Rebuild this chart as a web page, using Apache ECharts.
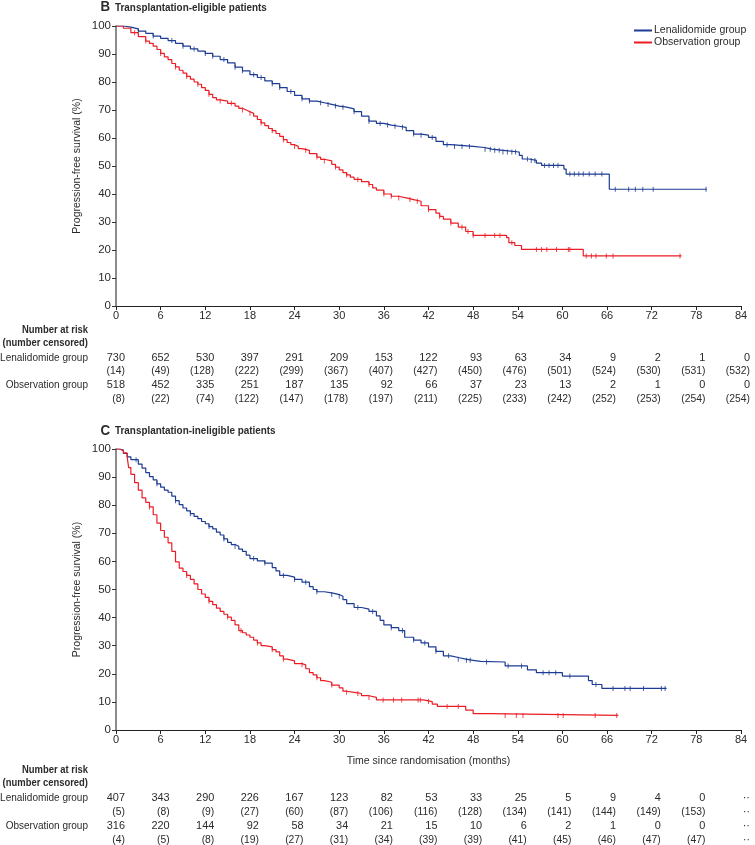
<!DOCTYPE html>
<html>
<head>
<meta charset="utf-8">
<script src="https://cdn.jsdelivr.net/npm/echarts@6/dist/echarts.min.js"></script>
<style>
html,body{margin:0;padding:0;background:#fff;}
#chart{width:755px;height:845px;}
</style>
</head>
<body>
<div id="chart"></div>
<script>
// ---------- DATA ----------
const legendNames = ['Lenalidomide group', 'Observation group'];
const panelTitles = ['Transplantation-eligible patients', 'Transplantation-ineligible patients'];
const panelLetters = ['B', 'C'];
const yAxisName = 'Progression-free survival (%)';
const xAxisName = 'Time since randomisation (months)';
const riskHeader = ['Number at risk', '(number censored)'];
const riskTimes = [0, 6, 12, 18, 24, 30, 36, 42, 48, 54, 60, 66, 72, 78, 84];

// Panel B Kaplan-Meier (time in months, survival %) — value from each time onward
const bLen = [[0,100],[1,99.6],[2,99],[3,98.2],[4,97.4],[5,96.4],[6,95.6],[7,94.8],[8,93.8],[9,92.8],[10,91.8],[11,91],[12,90.2],[13,89.2],[14,88],[15,86.8],[16,85.3],[17,84],[18,82.6],[19,81.6],[20,80.4],[21,79.4],[22,78],[23,76.6],[24,75.2],[25,74],[26,73.2],[27,72.6],[28,72],[29,71.4],[30,71],[31,70.4],[32,69.4],[33,67.8],[34,66],[35,65.2],[36,64.6],[37,64.2],[38,63.8],[39,62.6],[40,61.4],[41,61],[42,60.2],[43,58.8],[44,57.6],[45,57],[48,56.6],[49.5,56],[50.5,55.6],[52,55],[54.2,53.8],[54.6,52.5],[55.5,52],[56.5,51],[57.2,50.2],[60.2,48.9],[60.5,47.1],[66.3,41.7],[79.4,41.7]];
const bObs = [[0,100],[1,99.2],[2,97.6],[3,96.2],[4,94.6],[4.5,93.8],[5,92.8],[5.5,91.6],[6,90.2],[6.5,89],[7,88],[7.5,86.6],[8,85.4],[8.5,84.2],[9,83.2],[9.5,82],[10,81],[10.5,80],[11,79.2],[11.5,78],[12,77],[12.5,75.6],[13,74.4],[13.5,73.6],[14,73.2],[15,72.4],[16,71.4],[16.5,70.6],[17,70],[17.5,69.4],[18,68.8],[18.5,67.8],[19,66.6],[19.5,65.4],[20,64.4],[20.5,63.4],[21,62.6],[21.5,61.6],[22,60.6],[22.5,59.4],[23,58.4],[23.5,57.6],[24,57],[24.5,56.2],[25,55.6],[26,54.4],[27,53.2],[27.5,52.4],[28,51.8],[29,50.6],[29.5,49.6],[30,48.6],[30.5,47.6],[31,46.8],[31.5,46],[32,45.2],[33,44.4],[34,43.4],[34.5,42.2],[35,41.4],[36,40],[37,39.2],[38,38.6],[39,38],[40,37.4],[41,35.8],[42,34.4],[43,33.2],[43.5,32],[44,31],[45,29.6],[46,28.2],[47,26.6],[48,25.2],[52.5,24.4],[52.8,22.6],[53.6,21.6],[54.5,20.2],[62.8,17.9],[76,17.9]];
// Panel C
const cLen = [[0,100],[0.5,99.6],[1,98.4],[1.5,97.2],[2,96.2],[3,94.6],[3.5,93.2],[4,91.6],[4.5,90.2],[5,89],[5.5,87.6],[6,86.4],[6.5,85.4],[7,84.6],[7.5,83.2],[8,81.6],[8.5,80.2],[9,79],[9.5,78],[10,77],[10.5,76],[11,75.2],[11.5,74.2],[12,73.4],[12.5,72.4],[13,71.6],[13.5,70.4],[14,69.4],[14.5,68],[15,66.8],[15.5,66],[16,65.4],[16.5,64.4],[17,63.6],[17.5,62.2],[18,61],[19,60.2],[20,59.4],[21,57.8],[21.5,56.6],[22,55],[23,54.4],[24,53.6],[25,52.6],[26,51],[26.5,50],[27,49.2],[28,48.8],[29,48.2],[30,47.6],[30.5,46.4],[31,45],[32,43.6],[33,43],[34,42.2],[35,40.6],[35.5,39],[36,37.4],[37,36.4],[38,35.4],[38.8,33],[40,32],[41,31],[42,29.6],[43,28],[44,26.4],[45,25.8],[46,25.2],[47,24.8],[48,24.4],[49,24.2],[52.3,22.8],[55.3,21.4],[56.5,20.4],[60,19.2],[63.5,17.6],[64,16.2],[65.3,14.8],[74,14.8]];
const cObs = [[0,100],[0.5,99.4],[1,98.6],[1.5,97.2],[1.7,93.4],[2,91],[2.5,88],[3,85.4],[3.5,82.6],[4,81],[4.5,79.4],[5,76.6],[5.5,73.6],[6,71],[6.5,68.6],[7,66.6],[7.5,63.6],[8,59.8],[8.5,57.6],[9,56.4],[9.5,55],[10,53.6],[10.5,52],[11,50],[11.5,48.4],[12,47.2],[12.5,45.8],[13,44.6],[13.5,43.4],[14,42.2],[14.5,41.2],[15,40.2],[15.5,39],[16,37.4],[16.5,35.4],[17,34.6],[17.5,33.8],[18,33],[18.5,32],[19,31],[19.5,30],[20,29.6],[21,28.6],[21.5,27.8],[22,26.4],[22.5,25.2],[23,24.6],[24,23.6],[25,23.2],[25.5,21.8],[26,20.4],[26.5,19.6],[27,18.6],[27.5,17.6],[28,17],[29,16],[30,15],[30.5,13.8],[31,13.4],[32,13],[33,12.2],[34,11.6],[35,10.7],[41.3,10.1],[42.5,9.2],[43.2,8.4],[47,7.1],[48,5.8],[50.3,5.2],[67.5,5.2]];

// Censoring times (months)
const bLenCensT = [3,5,7.5,9,10.5,12,13,14.5,16,17,18.5,19.5,21,22,23.5,25,26,27.5,28.5,29.5,30.5,32,34,35.5,36.5,37.5,38.5,40,41,42.5,44.5,45.5,46.5,47.5,49.6,50.3,50.9,51.5,52,52.6,53.2,53.7,55.3,55.8,56.3,57.6,58.2,58.8,59.4,61,61.6,62.2,62.8,63.6,64.4,65.3,67.1,68.9,69.8,70.8,72.2,79.3];
const bObsCensT = [2.5,4,6,8,9.5,11,12.5,14,15.5,17,18,19.5,21,22.5,24,25.5,27,28,29.5,31,32.5,34,36,37,38,39.5,40.5,42,43.5,45,46.5,47.3,48,49.6,50.9,51.6,53.2,56.5,57.2,57.9,59.2,60.8,61,63.2,63.9,64.5,65.9,66.8,75.8];
const cLenCensT = [2.7,5.5,8,10,12.5,14.5,16,18.5,20,22.5,24,25.5,27,29,30,32.5,34.5,37,38.5,40,41.5,43,44.7,46,47.1,47.6,49.8,52.7,54.5,57.4,58.2,59.1,61,64.5,66.8,68.4,69.1,70.9,73.3,73.8];
const cObsCensT = [4.5,9.5,12.5,15,16.8,19,21,22.5,25,27,29,31,32.5,34,35.9,37.3,38.4,40.6,40.9,42,44.5,46,52.3,53.8,54.7,59.4,60.1,64.4,67.3];

// Number at risk tables
const bLenRisk = [730,652,530,397,291,209,153,122,93,63,34,9,2,1,0];
const bLenCens = [14,49,128,222,299,367,407,427,450,476,501,524,530,531,532];
const bObsRisk = [518,452,335,251,187,135,92,66,37,23,13,2,1,0,0];
const bObsCens = [8,22,74,122,147,178,197,211,225,233,242,252,253,254,254];
const cLenRisk = [407,343,290,226,167,123,82,53,33,25,5,9,4,0,'··'];
const cLenCens = [5,8,9,27,60,87,106,116,128,134,141,144,149,153,'··'];
const cObsRisk = [316,220,144,92,58,34,21,15,10,6,2,1,0,0,'··'];
const cObsCens = [4,5,8,19,27,31,34,39,39,41,45,46,47,47,'··'];

// ---------- STYLE ----------
const FONT = "'Liberation Sans', Arial, sans-serif";
const BLUE = '#1c3b92';
const RED = '#ec1c24';
const TXT = '#2b2b2b';

function survAt(curve, t) {
  let s = curve[0][1];
  for (const p of curve) { if (p[0] <= t) s = p[1]; else break; }
  return s;
}
function censorPoints(curve, times) { return times.map(t => [t, survAt(curve, t)]); }

const chart = echarts.init(document.getElementById('chart'), null, {renderer: 'canvas'});

function xAx(gi, withName) {
  return {
    type: 'value', gridIndex: gi, min: 0, max: 84, interval: 6,
    name: withName ? xAxisName : '', nameLocation: 'middle', nameGap: 26,
    nameTextStyle: {fontFamily: FONT, fontSize: 10.5, color: TXT},
    axisLine: {show: true, onZero: false, lineStyle: {color: '#222', width: 1.2}},
    axisTick: {show: true, length: 4, lineStyle: {color: '#222', width: 1}},
    axisLabel: {fontFamily: FONT, fontSize: 11, color: TXT, margin: 4},
    splitLine: {show: false}
  };
}
function yAx(gi) {
  return {
    type: 'value', gridIndex: gi, min: 0, max: 100, interval: 10,
    name: yAxisName, nameLocation: 'middle', nameGap: 33, nameMoveOverlap: false,
    nameTextStyle: {fontFamily: FONT, fontSize: 10.5, color: TXT},
    axisLine: {show: true, lineStyle: {color: '#707070', width: 1.6}},
    axisTick: {show: true, length: 4, lineStyle: {color: '#333', width: 1}},
    axisLabel: {fontFamily: FONT, fontSize: 11.5, color: TXT, margin: 5},
    splitLine: {show: false}
  };
}
function kmLine(name, data, color, gi) {
  return {name: name, type: 'line', step: 'end', xAxisIndex: gi, yAxisIndex: gi, data: data,
    showSymbol: false, symbol: 'none', lineStyle: {color: color, width: 1.2}, itemStyle: {color: color},
    animation: false, silent: true};
}
function censor(data, color, gi) {
  return {name: 'censor', type: 'scatter', xAxisIndex: gi, yAxisIndex: gi, data: data,
    symbol: 'rect', symbolSize: [1, 5], itemStyle: {color: color, opacity: 0.8},
    animation: false, silent: true};
}

chart.setOption({
  animation: false,
  textStyle: {fontFamily: FONT},
  grid: [
    {left: 116, top: 26, width: 625, height: 280},
    {left: 116, top: 449, width: 625, height: 281}
  ],
  xAxis: [xAx(0, false), xAx(1, true)],
  yAxis: [yAx(0), yAx(1)],
  legend: {
    left: 634, top: 25, orient: 'vertical', itemWidth: 18, itemHeight: 2, itemGap: 1, padding: 0,
    textStyle: {fontFamily: FONT, fontSize: 10.5, color: TXT, padding: [0, 0, 0, -3]},
    data: [{name: legendNames[0], icon: 'rect'}, {name: legendNames[1], icon: 'rect'}],
    selectedMode: false
  },
  series: [
    kmLine(legendNames[0], bLen, BLUE, 0),
    kmLine(legendNames[1], bObs, RED, 0),
    censor(censorPoints(bLen, bLenCensT), BLUE, 0),
    censor(censorPoints(bObs, bObsCensT), RED, 0),
    kmLine(legendNames[0], cLen, BLUE, 1),
    kmLine(legendNames[1], cObs, RED, 1),
    censor(censorPoints(cLen, cLenCensT), BLUE, 1),
    censor(censorPoints(cObs, cObsCensT), RED, 1)
  ]
});

// ---------- TEXT: titles and number-at-risk tables ----------
const g = [];
function txt(x, y, s, opt) {
  opt = opt || {};
  g.push({type: 'text', x: x, y: y, scaleX: opt.sx || 1, silent: true, style: {
    text: String(s), fontFamily: FONT, fontSize: opt.size || 11.5, fontWeight: opt.bold ? 'bold' : 'normal',
    fill: opt.color || TXT, align: opt.align || 'left', verticalAlign: 'middle'}});
}
const titleY = [7.5, 431];
[0, 1].forEach(i => {
  txt(110, titleY[i], panelLetters[i], {bold: true, size: 14, align: 'right', sx: 0.95});
  txt(115, titleY[i], panelTitles[i], {bold: true, size: 11, sx: 0.9});
});

const tables = [
  {gi: 0, rows: [330, 343, 358, 371, 385, 399], data: [bLenRisk, bLenCens, bObsRisk, bObsCens]},
  {gi: 1, rows: [770, 783, 798, 812, 826, 840], data: [cLenRisk, cLenCens, cObsRisk, cObsCens]}
];
tables.forEach(tb => {
  const r = tb.rows;
  txt(88, r[0], riskHeader[0], {bold: true, align: 'right', sx: 0.82});
  txt(88, r[1], riskHeader[1], {bold: true, align: 'right', sx: 0.82});
  txt(88, r[2], legendNames[0], {align: 'right', sx: 0.87});
  txt(88, r[4], legendNames[1], {align: 'right', sx: 0.87});
  const fmtC = v => (typeof v === 'number' ? '(' + v + ')' : v);
  riskTimes.forEach((t, k) => {
    const px = chart.convertToPixel({xAxisIndex: tb.gi}, t) + 9;
    txt(px, r[2], tb.data[0][k], {align: 'right', sx: 0.95});
    txt(px, r[3], fmtC(tb.data[1][k]), {align: 'right', sx: 0.9});
    txt(px, r[4], tb.data[2][k], {align: 'right', sx: 0.95});
    txt(px, r[5], fmtC(tb.data[3][k]), {align: 'right', sx: 0.9});
  });
});
chart.setOption({graphic: g});
</script>
</body>
</html>
